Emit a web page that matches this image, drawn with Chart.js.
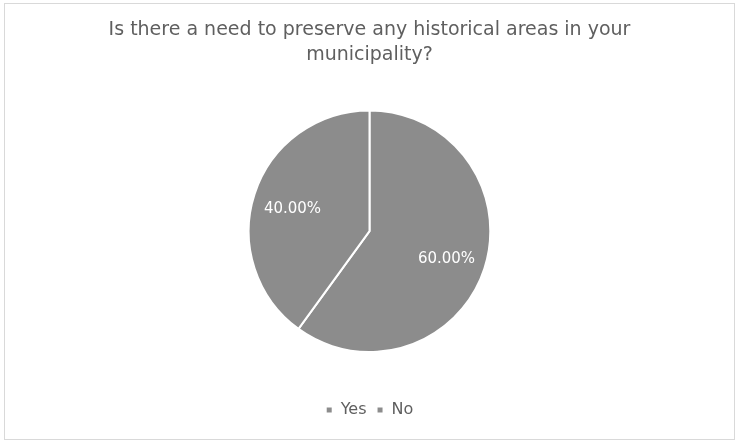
<!DOCTYPE html>
<html>
<head>
<meta charset="utf-8">
<script src="https://cdn.jsdelivr.net/npm/chart.js@4"></script>
<style>
  html, body { margin: 0; padding: 0; background: #fff; }
  #wrap { position: relative; width: 739px; height: 442px; }
  #frame { position: absolute; left: 4px; top: 3px; width: 731px; height: 437px; border: 1px solid #d9d9d9; box-sizing: border-box; pointer-events: none; }
</style>
</head>
<body>
<div id="wrap">
  <canvas id="pieChart" width="739" height="442"></canvas>
  <div id="frame"></div>
</div>
<script>
// survey answers
const answers = ["Yes", "No"];
const shares = [60, 40];
const sliceColors = ["#8c8c8c", "#8c8c8c"];

const fontFamily = "'DejaVu Sans', sans-serif";

// percentage text inside each slice
const sliceLabels = {
  id: 'sliceLabels',
  afterDatasetsDraw(chart) {
    const ctx = chart.ctx;
    const meta = chart.getDatasetMeta(0);
    const total = shares.reduce((a, b) => a + b, 0);
    ctx.save();
    ctx.font = "15px " + fontFamily;
    ctx.fillStyle = "#ffffff";
    ctx.textAlign = "center";
    ctx.textBaseline = "middle";
    meta.data.forEach((arc, i) => {
      const mid = (arc.startAngle + arc.endAngle) / 2;
      const r = arc.outerRadius * 0.67;
      const x = arc.x + Math.cos(mid) * r;
      const y = arc.y + Math.sin(mid) * r;
      ctx.fillText((shares[i] / total * 100).toFixed(2) + "%", x, y + 3);
    });
    ctx.restore();
  }
};

new Chart(document.getElementById('pieChart'), {
  type: 'pie',
  data: {
    labels: answers,
    datasets: [{
      data: shares,
      backgroundColor: sliceColors,
      borderColor: "#ffffff",
      borderWidth: 2
    }]
  },
  options: {
    responsive: false,
    animation: false,
    layout: { padding: { top: 14, bottom: 14, left: 10, right: 10 } },
    plugins: {
      title: {
        display: true,
        text: ["Is there a need to preserve any historical areas in your", "municipality?"],
        color: "#5f5f5f",
        font: { family: fontFamily, size: 19, weight: 'normal', lineHeight: 1.3 },
        padding: { top: 4, bottom: 42 }
      },
      legend: {
        position: 'bottom',
        // empty title only used as a spacer above the legend items
        title: {
          display: true,
          text: ' ',
          font: { size: 10, lineHeight: 1 },
          padding: { top: 29, bottom: 0 }
        },
        labels: {
          color: "#5f5f5f",
          font: { family: fontFamily, size: 16 },
          usePointStyle: true,
          pointStyle: 'rect',
          boxWidth: 7,
          boxHeight: 7,
          padding: 10
        }
      },
      tooltip: { enabled: false }
    }
  },
  plugins: [sliceLabels]
});
</script>
</body>
</html>
